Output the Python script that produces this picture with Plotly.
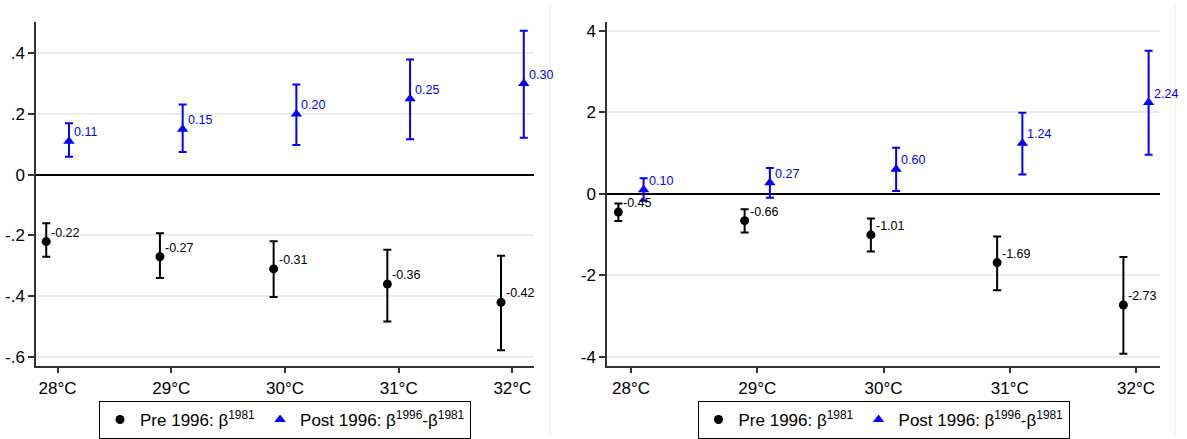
import plotly.graph_objects as go

# ---------------- data ----------------
temps = [28, 29, 30, 31, 32]
tick_labels = ["28°C", "29°C", "30°C", "31°C", "32°C"]

# Left panel
pre_left = [-0.22, -0.27, -0.31, -0.36, -0.42]
pre_left_hi = [-0.160, -0.193, -0.219, -0.247, -0.267]
pre_left_lo = [-0.270, -0.340, -0.402, -0.483, -0.578]
post_left = [0.11, 0.15, 0.20, 0.25, 0.30]
post_left_hi = [0.169, 0.231, 0.297, 0.379, 0.474]
post_left_lo = [0.059, 0.075, 0.098, 0.117, 0.122]

# Right panel
pre_right = [-0.45, -0.66, -1.01, -1.69, -2.73]
pre_right_hi = [-0.24, -0.38, -0.61, -1.05, -1.55]
pre_right_lo = [-0.67, -0.95, -1.42, -2.37, -3.93]
post_right = [0.10, 0.27, 0.60, 1.24, 2.24]
post_right_hi = [0.38, 0.63, 1.13, 1.99, 3.51]
post_right_lo = [-0.17, -0.10, 0.07, 0.47, 0.96]

left_yticks = [-0.6, -0.4, -0.2, 0, 0.2, 0.4]
left_ytext = ["-.6", "-.4", "-.2", "0", ".2", ".4"]
right_yticks = [-4, -2, 0, 2, 4]
right_ytext = ["-4", "-2", "0", "2", "4"]

offset = 0.1
FONT = "Liberation Sans, Arial, sans-serif"
BLUE = "#0000ff"
GRID = "#e6eef0"
AXIS = "#333333"

pre_name = "Pre 1996: β<sup>1981</sup>"
post_name = "Post 1996: β<sup>1996</sup>-β<sup>1981</sup>"

fig = go.Figure()


def add_series(xs, ys, hi, lo, color, symbol, size, name, xa, ya, legend):
    fig.add_trace(go.Scatter(
        x=xs, y=ys, mode="markers", name=name,
        marker=dict(color=color, symbol=symbol, size=size, line=dict(width=0)),
        error_y=dict(type="data", symmetric=False,
                     array=[h - y for h, y in zip(hi, ys)],
                     arrayminus=[y - l for l, y in zip(lo, ys)],
                     color=color, thickness=2, width=4),
        xaxis=xa, yaxis=ya, legend=legend, showlegend=True,
    ))


annotations = []


def add_labels(xs, ys, color, xref, yref):
    for x, y in zip(xs, ys):
        annotations.append(dict(
            x=x, y=y, xref=xref, yref=yref, text=f"{y:.2f}",
            showarrow=False, xanchor="left", yanchor="middle",
            xshift=3, yshift=9,
            font=dict(family=FONT, size=12.5, color=color),
        ))


xl_pre = [t - offset for t in temps]
xl_post = [t + offset for t in temps]

add_series(xl_pre, pre_left, pre_left_hi, pre_left_lo, "black", "circle", 9,
           pre_name, "x", "y", "legend")
add_series(xl_post, post_left, post_left_hi, post_left_lo, BLUE, "triangle-up", 10,
           post_name, "x", "y", "legend")
add_series(xl_pre, pre_right, pre_right_hi, pre_right_lo, "black", "circle", 9,
           pre_name, "x2", "y2", "legend2")
add_series(xl_post, post_right, post_right_hi, post_right_lo, BLUE, "triangle-up", 10,
           post_name, "x2", "y2", "legend2")

add_labels(xl_pre, pre_left, "black", "x", "y")
add_labels(xl_post, post_left, BLUE, "x", "y")
add_labels(xl_pre, pre_right, "black", "x2", "y2")
add_labels(xl_post, post_right, BLUE, "x2", "y2")

W, H = 1187, 439
ydom = [1 - 369 / H, 1 - 22 / H]
xdom1 = [36 / W, 534 / W]
xdom2 = [607 / W, 1160 / W]

xcommon = dict(range=[27.81, 32.19], tickvals=temps, ticktext=tick_labels,
               showgrid=False, zeroline=False, showline=True, linecolor=AXIS,
               linewidth=1.5, ticks="outside", ticklen=5, tickcolor=AXIS,
               tickwidth=1.5, tickfont=dict(family=FONT, size=17, color="black"),
               automargin=False, fixedrange=True)
ycommon = dict(showgrid=True, gridcolor=GRID, gridwidth=1.5, zeroline=True,
               zerolinecolor="black", zerolinewidth=1.5, showline=True,
               linecolor=AXIS, linewidth=1.5, ticks="outside", ticklen=6,
               tickcolor=AXIS, tickwidth=1.5,
               tickfont=dict(family=FONT, size=17, color="black"),
               automargin=False, fixedrange=True)

legend_common = dict(orientation="h", xanchor="center", yanchor="top",
                     bgcolor="white", bordercolor="black", borderwidth=1,
                     font=dict(family=FONT, size=17, color="black"),
                     itemclick=False, itemdoubleclick=False)

fig.update_layout(
    width=W, height=H,
    margin=dict(l=0, r=0, t=0, b=0),
    paper_bgcolor="white", plot_bgcolor="white",
    font=dict(family=FONT, size=16, color="black"),
    xaxis=dict(domain=xdom1, anchor="y", **xcommon),
    yaxis=dict(domain=ydom, anchor="x", range=[-0.631, 0.503],
               tickvals=left_yticks, ticktext=left_ytext, **ycommon),
    xaxis2=dict(domain=xdom2, anchor="y2", **xcommon),
    yaxis2=dict(domain=ydom, anchor="x2", range=[-4.24, 4.22],
                tickvals=right_yticks, ticktext=right_ytext, **ycommon),
    legend=dict(x=(xdom1[0] + xdom1[1]) / 2, y=1 - 404 / H, **legend_common),
    legend2=dict(x=(xdom2[0] + xdom2[1]) / 2, y=1 - 404 / H, **legend_common),
    annotations=annotations,
    shapes=[
        dict(type="line", xref="paper", yref="paper", x0=550 / W, x1=550 / W,
             y0=0, y1=1 - 5 / H, line=dict(color="#eeeeee", width=1)),
        dict(type="line", xref="paper", yref="paper", x0=1175 / W, x1=1175 / W,
             y0=0, y1=1 - 5 / H, line=dict(color="#eeeeee", width=1)),
    ],
    showlegend=True,
)

fig.write_html("out.html")
